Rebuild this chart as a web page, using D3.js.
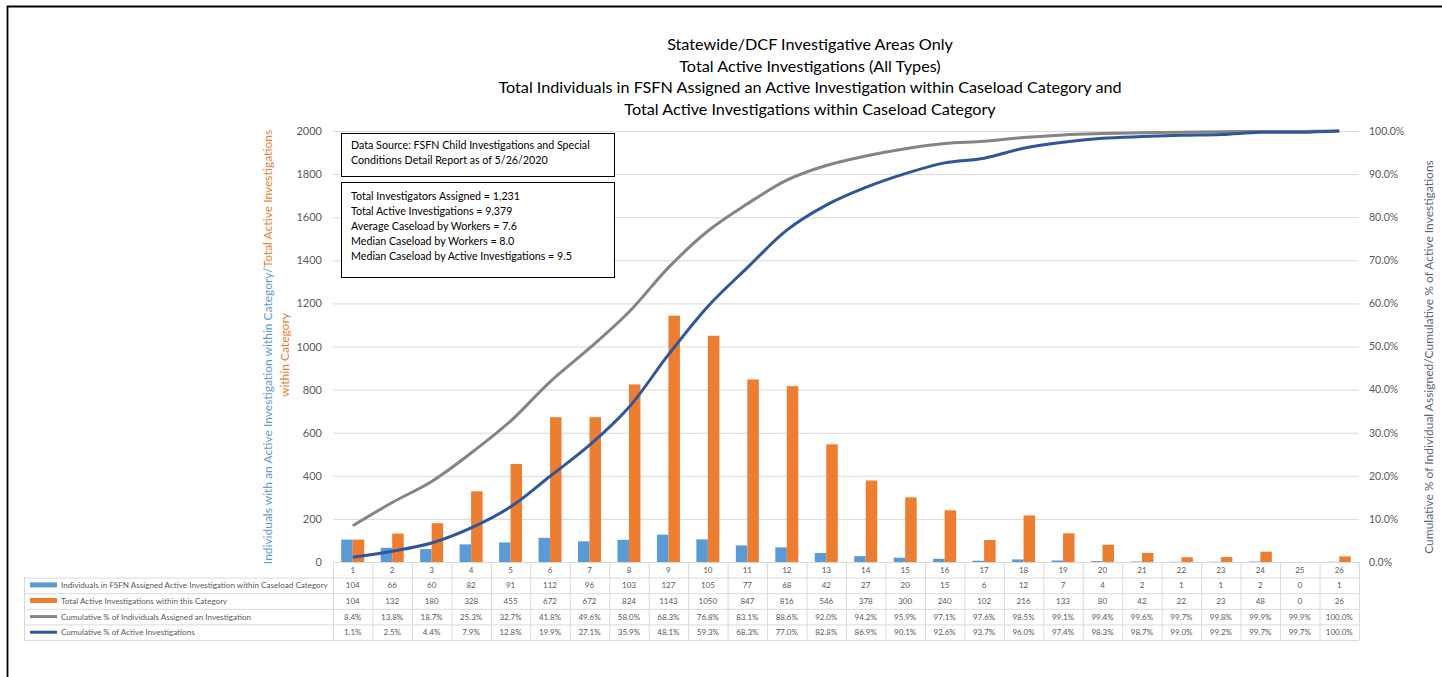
<!DOCTYPE html>
<html>
<head>
<meta charset="utf-8">
<script src="https://cdn.jsdelivr.net/npm/d3@7"></script>
<style>
  body { margin: 0; background: #fff; }
  svg { display: block; font-family: Lato, "Open Sans", sans-serif; }
</style>
</head>
<body>
<svg id="chart" width="1442" height="677"></svg>
<script>
// caseload categories and the four series from the data table
var categories = d3.range(1, 27).map(String);
var individuals = [104, 66, 60, 82, 91, 112, 96, 103, 127, 105, 77, 68, 42, 27, 20, 15, 6, 12, 7, 4, 2, 1, 1, 2, 0, 1];
var investigations = [104, 132, 180, 328, 455, 672, 672, 824, 1143, 1050, 847, 816, 546, 378, 300, 240, 102, 216, 133, 80, 42, 22, 23, 48, 0, 26];
var cumIndividuals = [8.4, 13.8, 18.7, 25.3, 32.7, 41.8, 49.6, 58.0, 68.3, 76.8, 83.1, 88.6, 92.0, 94.2, 95.9, 97.1, 97.6, 98.5, 99.1, 99.4, 99.6, 99.7, 99.8, 99.9, 99.9, 100.0];
var cumInvestigations = [1.1, 2.5, 4.4, 7.9, 12.8, 19.9, 27.1, 35.9, 48.1, 59.3, 68.3, 77.0, 82.8, 86.9, 90.1, 92.6, 93.7, 96.0, 97.4, 98.3, 98.7, 99.0, 99.2, 99.7, 99.7, 100.0];
var leftTicks = d3.range(0, 2001, 200);
var rightTicks = d3.range(0, 101, 10);

var titleLines = [
  "Statewide/DCF Investigative Areas Only",
  "Total Active Investigations (All Types)",
  "Total Individuals in FSFN Assigned an Active Investigation within Caseload Category and",
  "Total Active Investigations within Caseload Category"
];
var sourceLines = ["Data Source: FSFN Child Investigations and Special", "Conditions Detail Report as of 5/26/2020"];
var statLines = [
  "Total Investigators Assigned = 1,231",
  "Total Active Investigations = 9,379",
  "Average Caseload by Workers = 7.6",
  "Median Caseload by Workers = 8.0",
  "Median Caseload by Active Investigations = 9.5"
];

var colBlue = "#5b9bd5", colOrange = "#ed7d31", colGray = "#848484", colNavy = "#2f559b";

var svg = d3.select("#chart");

// outer frame (top + left edge)
svg.append("path").attr("d", "M7.5,677 V6.5 H1442").attr("fill", "none").attr("stroke", "#000").attr("stroke-width", 1.8);

var plotL = 333, plotR = 1359, plotT = 131, plotB = 562;

var x = d3.scaleBand().domain(categories).range([plotL, plotR]);
var y = d3.scaleLinear().domain([0, 2000]).range([plotB, plotT]);
var yPct = d3.scaleLinear().domain([0, 100]).range([plotB, plotT]);

// title
svg.append("g").selectAll("text").data(titleLines).enter().append("text")
  .attr("x", 810).attr("y", (d, i) => 50 + i * 21.7)
  .attr("text-anchor", "middle").attr("font-size", 16.2).attr("fill", "#000")
  .text(d => d);

// gridlines
svg.append("g").selectAll("line").data(leftTicks.filter(d => d > 0)).enter().append("line")
  .attr("x1", plotL).attr("x2", plotR).attr("y1", d => y(d) + 0.5).attr("y2", d => y(d) + 0.5)
  .attr("stroke", "#d9d9d9").attr("stroke-width", 1);

// left axis
var ay = svg.append("g").attr("transform", "translate(322,0)")
  .call(d3.axisLeft(y).tickValues(leftTicks).tickSize(0).tickPadding(0).tickFormat(d3.format("d")));
ay.select(".domain").remove();
ay.selectAll("text").attr("font-size", 11).attr("fill", "#595959").attr("font-family", "Lato, sans-serif");

// right axis
var ar = svg.append("g").attr("transform", "translate(1369,0)")
  .call(d3.axisRight(yPct).tickValues(rightTicks).tickSize(0).tickPadding(0).tickFormat(d => d3.format(".1f")(d) + "%"));
ar.select(".domain").remove();
ar.selectAll("text").attr("font-size", 10.5).attr("fill", "#595959").attr("font-family", "Lato, sans-serif");

// bars
var bw = 11.5;
svg.append("g").selectAll("rect").data(individuals).enter().append("rect")
  .attr("x", (d, i) => x(categories[i]) + x.bandwidth() / 2 - bw)
  .attr("y", d => y(d)).attr("width", bw).attr("height", d => plotB - y(d))
  .attr("fill", colBlue);
svg.append("g").selectAll("rect").data(investigations).enter().append("rect")
  .attr("x", (d, i) => x(categories[i]) + x.bandwidth() / 2)
  .attr("y", d => y(d)).attr("width", bw).attr("height", d => plotB - y(d))
  .attr("fill", colOrange);

// cumulative lines
var line = d3.line()
  .x((d, i) => x(categories[i]) + x.bandwidth() / 2)
  .y(d => yPct(d))
  .curve(d3.curveCatmullRom.alpha(0.5));
svg.append("path").datum(cumIndividuals).attr("d", line)
  .attr("fill", "none").attr("stroke", colGray).attr("stroke-width", 3);
svg.append("path").datum(cumInvestigations).attr("d", line)
  .attr("fill", "none").attr("stroke", colNavy).attr("stroke-width", 3);

// text boxes
function box(x0, y0, w, h, lines, ty, lh) {
  svg.append("rect").attr("x", x0 + 0.5).attr("y", y0 + 0.5).attr("width", w).attr("height", h)
    .attr("fill", "#fff").attr("stroke", "#000").attr("stroke-width", 1);
  svg.append("g").selectAll("text").data(lines).enter().append("text")
    .attr("x", x0 + 10).attr("y", (d, i) => ty + i * lh)
    .attr("font-size", 10.7).attr("fill", "#000").text(d => d);
}
box(341, 133, 273, 43, sourceLines, 149, 14.5);
box(341, 182, 273, 95, statLines, 200, 15);

// left axis title
var lt = svg.append("text").attr("transform", "translate(272,347) rotate(-90)")
  .attr("text-anchor", "middle").attr("font-size", 12);
lt.append("tspan").attr("fill", colBlue).text("Individuals with an Active Investigation within Category/");
lt.append("tspan").attr("fill", colOrange).text("Total Active Investigations");
svg.append("text").attr("transform", "translate(289,355) rotate(-90)")
  .attr("text-anchor", "middle").attr("font-size", 12).attr("fill", colOrange).text("within Category");

// right axis title
svg.append("text").attr("transform", "translate(1433,357) rotate(-90)")
  .attr("text-anchor", "middle").attr("font-size", 12).attr("fill", "#5b6577")
  .text("Cumulative % of Individual Assigned/Cumulative % of Active Investigations");

// data table
var tableL = 24, rowH = 15.6, headT = plotB;
var rows = [
  { name: "Individuals in FSFN Assigned Active Investigation within Caseload Category", color: colBlue, key: "bar", vals: individuals.map(String) },
  { name: "Total Active Investigations within this Category", color: colOrange, key: "bar", vals: investigations.map(String) },
  { name: "Cumulative % of Individuals Assigned an Investigation", color: colGray, key: "line", vals: cumIndividuals.map(d => d.toFixed(1) + "%") },
  { name: "Cumulative % of Active Investigations", color: colNavy, key: "line", vals: cumInvestigations.map(d => d.toFixed(1) + "%") }
];
var tg = svg.append("g").attr("stroke", "#d9d9d9").attr("stroke-width", 1);
// horizontal rules
tg.append("line").attr("x1", plotL).attr("x2", plotR).attr("y1", headT + 0.5).attr("y2", headT + 0.5);
d3.range(1, 6).forEach(function (r) {
  tg.append("line").attr("x1", tableL).attr("x2", plotR)
    .attr("y1", headT + r * rowH + 0.5).attr("y2", headT + r * rowH + 0.5);
});
// vertical rules
tg.append("line").attr("x1", tableL + 0.5).attr("x2", tableL + 0.5).attr("y1", headT + rowH).attr("y2", headT + 5 * rowH);
categories.concat(["end"]).forEach(function (c, i) {
  var xx = plotL + i * x.bandwidth();
  tg.append("line").attr("x1", xx + 0.5).attr("x2", xx + 0.5).attr("y1", headT).attr("y2", headT + 5 * rowH);
});
// header (category numbers)
svg.append("g").selectAll("text").data(categories).enter().append("text")
  .attr("x", d => x(d) + x.bandwidth() / 2).attr("y", headT + rowH / 2 + 3)
  .attr("text-anchor", "middle").attr("font-size", 8).attr("fill", "#595959").text(d => d);
rows.forEach(function (row, r) {
  var cy = headT + (r + 1) * rowH + rowH / 2;
  if (row.key === "bar") {
    svg.append("rect").attr("x", 30).attr("y", cy - 3).attr("width", 27).attr("height", 5).attr("fill", row.color);
  } else {
    svg.append("line").attr("x1", 30).attr("x2", 57).attr("y1", cy).attr("y2", cy)
      .attr("stroke", row.color).attr("stroke-width", 3);
  }
  svg.append("text").attr("x", 61).attr("y", cy + 3).attr("font-size", 8.1).attr("fill", "#595959").text(row.name);
  svg.append("g").selectAll("text").data(row.vals).enter().append("text")
    .attr("x", (d, i) => x(categories[i]) + x.bandwidth() / 2).attr("y", cy + 3)
    .attr("text-anchor", "middle").attr("font-size", 8).attr("fill", "#595959").text(d => d);
});
</script>
</body>
</html>
